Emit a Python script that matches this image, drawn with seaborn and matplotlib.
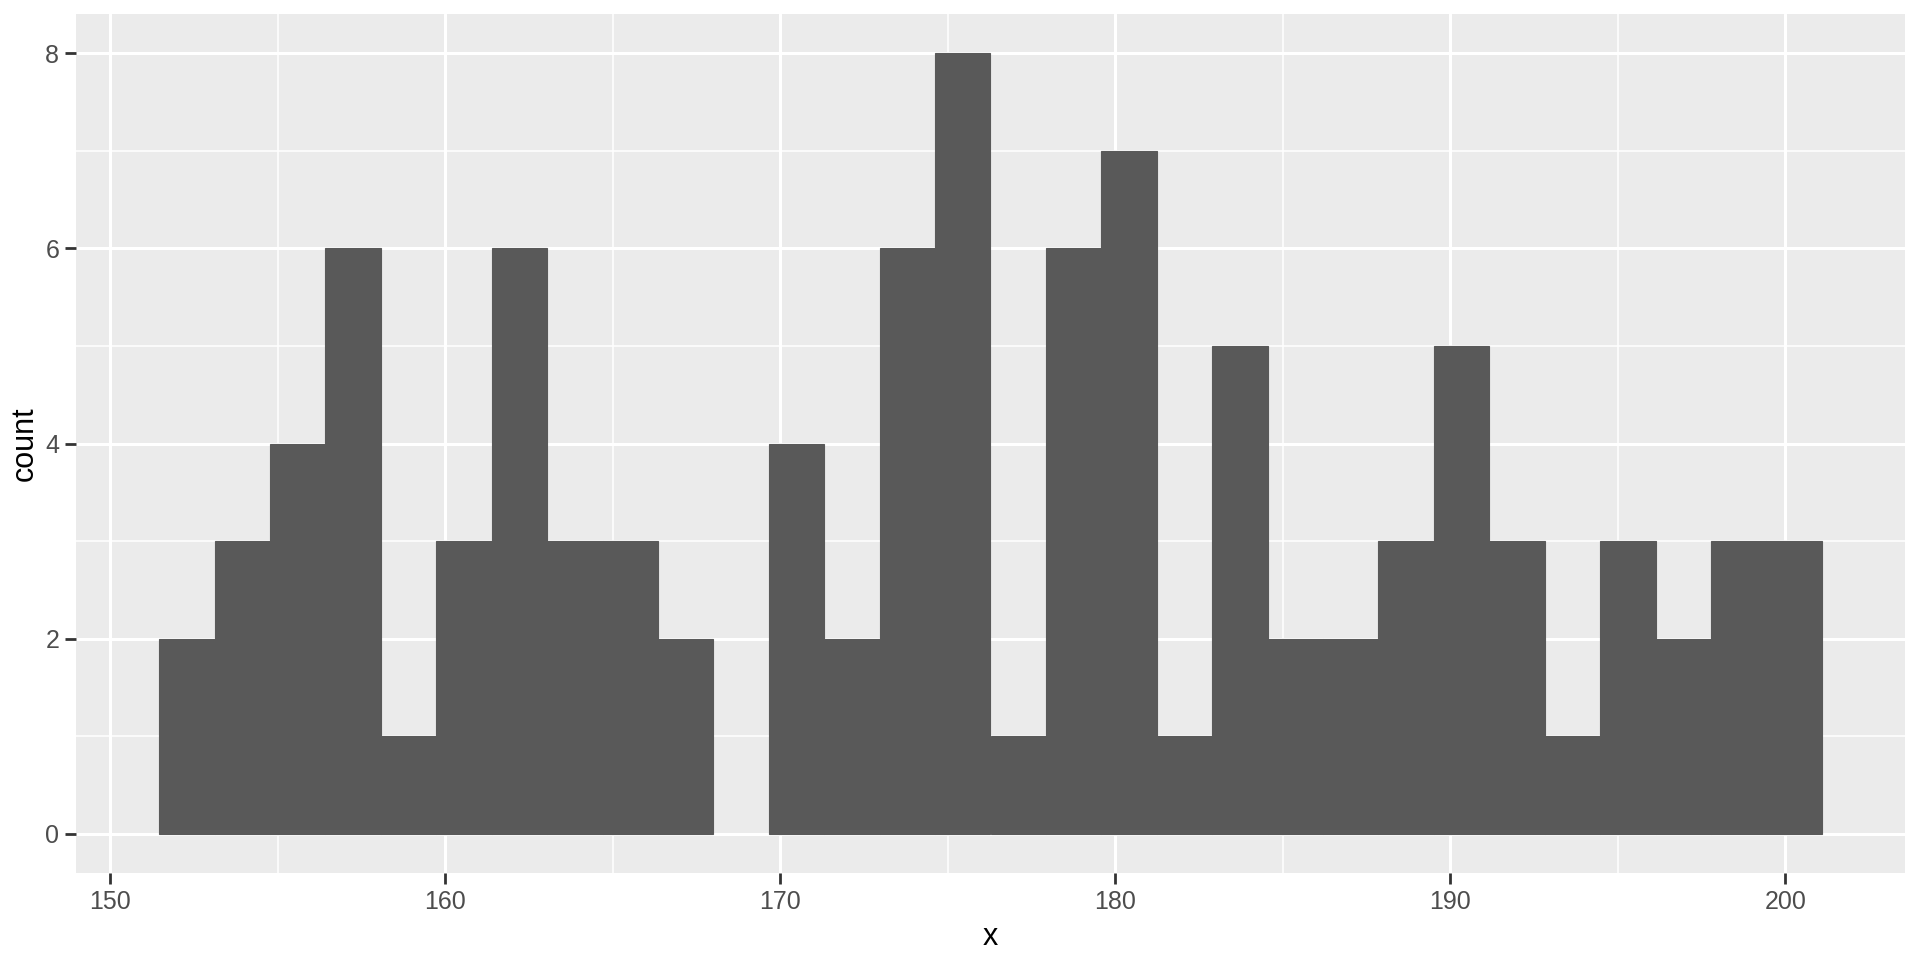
import numpy as np
import pandas as pd
import matplotlib
matplotlib.use("Agg")
import matplotlib.pyplot as plt
import seaborn as sns
from matplotlib.ticker import MultipleLocator

# histogram: 30 bins from ~151.46 to ~201.09
bin_low = 151.46
bin_high = 201.09
counts = [2, 3, 4, 6, 1, 3, 6, 3, 3, 2,
          0, 4, 2, 6, 8, 1, 6, 7, 1, 5,
          2, 2, 3, 5, 3, 1, 3, 2, 3, 3]

edges = np.linspace(bin_low, bin_high, len(counts) + 1)
centers = (edges[:-1] + edges[1:]) / 2
df = pd.DataFrame({"x": centers, "n": counts})

sns.set_style("darkgrid", {
    "axes.facecolor": "#EBEBEB",
    "grid.color": "white",
    "axes.edgecolor": "#EBEBEB",
})
plt.rcParams["font.family"] = ["Liberation Sans", "DejaVu Sans"]

fig = plt.figure(figsize=(19.2, 9.6), dpi=100)
ax = fig.add_axes([76 / 1920, 87 / 960, 1829 / 1920, 859 / 960])

sns.histplot(data=df, x="x", weights="n", bins=len(counts),
             binrange=(bin_low, bin_high), stat="count",
             color="#595959", alpha=1, ax=ax)
# same-colour edge so neighbouring bars show no hairline seam
for p in ax.patches:
    p.set_edgecolor("#595959")
    p.set_linewidth(0.8)
    if p.get_height() == 0:
        p.set_visible(False)

# ggplot-style 5% expansion
span = bin_high - bin_low
ax.set_xlim(bin_low - 0.05 * span, bin_high + 0.05 * span)
ax.set_ylim(-0.4, 8.4)

ax.xaxis.set_major_locator(MultipleLocator(10))
ax.xaxis.set_minor_locator(MultipleLocator(5))
ax.yaxis.set_major_locator(MultipleLocator(2))
ax.yaxis.set_minor_locator(MultipleLocator(1))

ax.grid(which="major", color="white", linewidth=2.2)
ax.grid(which="minor", color="white", linewidth=1.1)
ax.set_axisbelow(True)
for s in ax.spines.values():
    s.set_visible(False)

ax.tick_params(axis="both", which="major", length=8, width=2, color="#333333",
               labelsize=18, labelcolor="#4D4D4D", pad=4, bottom=True, left=True)
ax.tick_params(axis="both", which="minor", length=0)

ax.set_xlabel("x", fontsize=22, color="black", labelpad=6)
ax.set_ylabel("count", fontsize=22, color="black", labelpad=4)

fig.savefig("out.png", dpi=100)
